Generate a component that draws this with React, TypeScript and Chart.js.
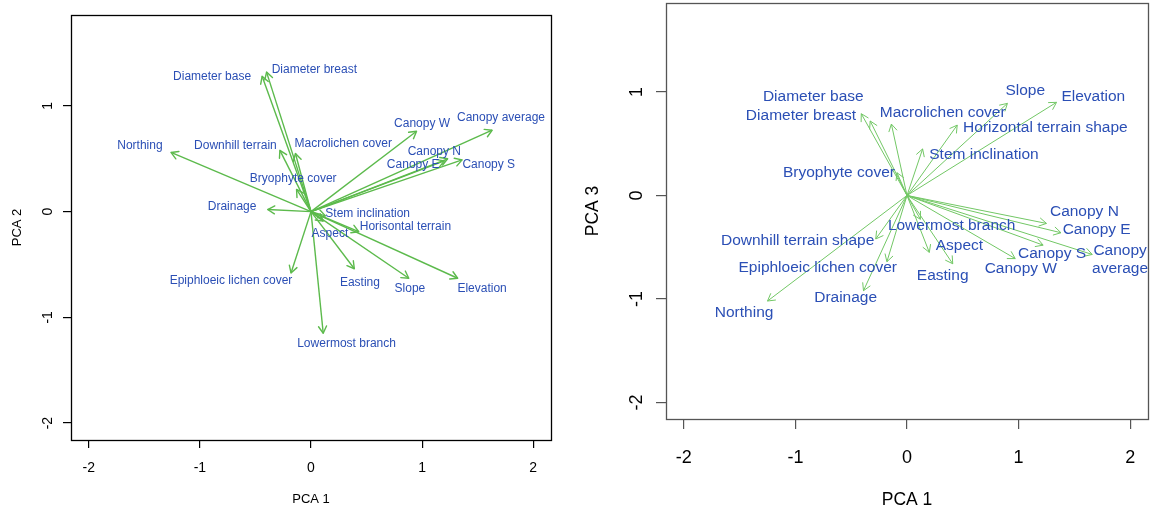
import React, { useEffect, useRef } from "react";
import { Chart, registerables } from "chart.js";

Chart.register(...registerables);

// ---------- data ----------
const xTickValues = [-2, -1, 0, 1, 2];
const yTickValues = [-2, -1, 0, 1];
const xRange = [-2.16, 2.16];
const yRange = [-2.16, 1.86];

// Left panel: PCA 1 vs PCA 2
const leftVariables = [
  "Diameter base", "Diameter breast", "Northing", "Downhill terrain", "Macrolichen cover",
  "Bryophyte cover", "Drainage", "Canopy W", "Canopy average", "Canopy N",
  "Canopy E", "Canopy S", "Stem inclination", "Horisontal terrain", "Aspect",
  "Epiphloeic lichen cover", "Easting", "Slope", "Elevation", "Lowermost branch",
];
const leftPCA1 = [-0.44, -0.40, -1.26, -0.28, -0.14, -0.13, -0.39, 0.95, 1.63, 1.23, 1.20, 1.36, 0.13, 0.43, 0.11, -0.18, 0.39, 0.88, 1.32, 0.11];
const leftPCA2 = [1.28, 1.32, 0.56, 0.58, 0.55, 0.21, 0.02, 0.76, 0.77, 0.50, 0.48, 0.49, -0.04, -0.19, -0.09, -0.58, -0.54, -0.63, -0.63, -1.15];
const leftLabelPCA1 = [-0.89, 0.03, -1.54, -0.68, 0.29, -0.16, -0.71, 1.00, 1.71, 1.11, 0.92, 1.60, 0.51, 0.85, 0.17, -0.72, 0.44, 0.89, 1.54, 0.32];
const leftLabelPCA2 = [1.28, 1.34, 0.62, 0.62, 0.64, 0.31, 0.05, 0.83, 0.89, 0.57, 0.44, 0.44, -0.02, -0.14, -0.21, -0.65, -0.67, -0.73, -0.73, -1.25];

// Right panel: PCA 1 vs PCA 3
const rightVariables = [
  "Diameter base", "Diameter breast", "Northing", "Downhill terrain shape", "Macrolichen cover",
  "Bryophyte cover", "Drainage", "Canopy W", "Canopy\naverage", "Canopy N",
  "Canopy E", "Canopy S", "Stem inclination", "Horizontal terrain shape", "Aspect",
  "Epiphloeic lichen cover", "Easting", "Slope", "Elevation", "Lowermost branch",
];
const rightPCA1 = [-0.33, -0.41, -1.25, -0.28, -0.14, -0.09, -0.39, 0.97, 1.66, 1.25, 1.38, 1.22, 0.14, 0.45, 0.20, -0.18, 0.41, 0.90, 1.34, 0.12];
const rightPCA3 = [0.72, 0.79, -1.02, -0.42, 0.69, 0.22, -0.92, -0.61, -0.57, -0.27, -0.36, -0.48, 0.45, 0.68, -0.55, -0.64, -0.66, 0.89, 0.90, -0.23];
const rightLabelPCA1 = [-0.84, -0.95, -1.46, -0.98, 0.32, -0.61, -0.55, 1.02, 1.91, 1.59, 1.70, 1.30, 0.69, 1.24, 0.47, -0.80, 0.32, 1.06, 1.67, 0.40];
const rightLabelPCA3 = [0.95, 0.77, -1.13, -0.44, 0.80, 0.22, -0.99, -0.71, -0.62, -0.16, -0.33, -0.56, 0.39, 0.65, -0.49, -0.70, -0.78, 1.01, 0.95, -0.29];

// ---------- drawing ----------
const FONT = '"Liberation Sans", Arial, Helvetica, sans-serif';

const biplotPlugin = {
  id: "biplot",
  afterDatasetsDraw(chart: any, _args: any, o: any) {
    const ctx = chart.ctx;
    ctx.save();
    ctx.strokeStyle = o.arrowColor;
    ctx.lineWidth = o.arrowWidth;
    ctx.lineCap = "round";
    ctx.lineJoin = "round";
    chart.data.datasets.forEach((_ds: any, i: number) => {
      const meta = chart.getDatasetMeta(i);
      const a = meta.data[0];
      const b = meta.data[1];
      if (!a || !b) return;
      const ang = Math.atan2(b.y - a.y, b.x - a.x);
      const L = o.headLen;
      const phi = Math.PI / 6;
      ctx.beginPath();
      ctx.moveTo(b.x - L * Math.cos(ang - phi), b.y - L * Math.sin(ang - phi));
      ctx.lineTo(b.x, b.y);
      ctx.lineTo(b.x - L * Math.cos(ang + phi), b.y - L * Math.sin(ang + phi));
      ctx.stroke();
    });
    ctx.restore();
  },
  afterDraw(chart: any, _args: any, o: any) {
    const ctx = chart.ctx;
    const { left, right, top, bottom } = chart.chartArea;
    const xs = chart.scales.x;
    const ys = chart.scales.y;
    ctx.save();
    // box
    ctx.strokeStyle = o.boxColor;
    ctx.lineWidth = o.boxWidth;
    ctx.strokeRect(Math.round(left) + 0.5, Math.round(top) + 0.5, Math.round(right - left), Math.round(bottom - top));

    // variable labels
    ctx.fillStyle = o.textColor;
    ctx.font = `${o.labelSize}px ${FONT}`;
    ctx.textAlign = "center";
    ctx.textBaseline = "middle";
    o.names.forEach((name: string, i: number) => {
      const px = xs.getPixelForValue(o.labelX[i]);
      const py = ys.getPixelForValue(o.labelY[i]);
      const lines = name.split("\n");
      const lh = o.labelSize * 1.2;
      lines.forEach((ln, k) => {
        ctx.fillText(ln, px, py + (k - (lines.length - 1) / 2) * lh);
      });
    });

    // tick labels
    ctx.fillStyle = "#000";
    ctx.font = `${o.tickSize}px ${FONT}`;
    ctx.textAlign = "center";
    ctx.textBaseline = "middle";
    xTickValues.forEach((v) => {
      ctx.fillText(String(v), xs.getPixelForValue(v), bottom + o.xTickOffset);
    });
    yTickValues.forEach((v) => {
      ctx.save();
      ctx.translate(left - o.yTickOffset, ys.getPixelForValue(v));
      ctx.rotate(-Math.PI / 2);
      ctx.fillText(String(v), 0, 0);
      ctx.restore();
    });

    // axis titles
    ctx.font = `${o.titleSize}px ${FONT}`;
    ctx.fillText(o.xTitle, (left + right) / 2, bottom + o.xTitleOffset);
    ctx.save();
    ctx.translate(left - o.yTitleOffset, (top + bottom) / 2);
    ctx.rotate(-Math.PI / 2);
    ctx.fillText(o.yTitle, 0, 0);
    ctx.restore();
    ctx.restore();
  },
};

type PanelStyle = {
  yAxisWidth: number;
  xAxisHeight: number;
  padTop: number;
  padRight: number;
  tickLen: number;
  axisColor: string;
  axisWidth: number;
  plugin: any;
};

function buildConfig(names: string[], xs: number[], ys: number[], st: PanelStyle): any {
  const datasets = names.map((n, i) => ({
    label: n,
    data: [
      { x: 0, y: 0 },
      { x: xs[i], y: ys[i] },
    ],
    showLine: true,
    borderColor: st.plugin.arrowColor,
    borderWidth: st.plugin.arrowWidth,
    pointRadius: 0,
    pointHoverRadius: 0,
    fill: false,
  }));
  const gridOpts = {
    display: true,
    drawOnChartArea: false,
    drawTicks: true,
    tickLength: st.tickLen,
    color: st.axisColor,
    lineWidth: st.axisWidth,
  };
  return {
    type: "scatter",
    data: { datasets },
    options: {
      animation: false,
      responsive: false,
      maintainAspectRatio: false,
      events: [],
      layout: { padding: { left: 0, right: st.padRight, top: st.padTop, bottom: 0 } },
      plugins: {
        legend: { display: false },
        tooltip: { enabled: false },
        biplot: st.plugin,
      },
      scales: {
        x: {
          type: "linear",
          min: xRange[0],
          max: xRange[1],
          afterBuildTicks: (s: any) => {
            s.ticks = xTickValues.map((v) => ({ value: v }));
          },
          afterFit: (s: any) => {
            s.height = st.xAxisHeight;
          },
          grid: gridOpts,
          border: { display: false },
          ticks: { display: false },
        },
        y: {
          type: "linear",
          min: yRange[0],
          max: yRange[1],
          afterBuildTicks: (s: any) => {
            s.ticks = yTickValues.map((v) => ({ value: v }));
          },
          afterFit: (s: any) => {
            s.width = st.yAxisWidth;
          },
          grid: gridOpts,
          border: { display: false },
          ticks: { display: false },
        },
      },
    },
    plugins: [biplotPlugin],
  };
}

const leftStyle: PanelStyle = {
  yAxisWidth: 71,
  xAxisHeight: 70,
  padTop: 15,
  padRight: 25,
  tickLen: 8,
  axisColor: "#000",
  axisWidth: 1.2,
  plugin: {
    names: leftVariables,
    labelX: leftLabelPCA1,
    labelY: leftLabelPCA2,
    arrowColor: "#5cba4c",
    arrowWidth: 1.4,
    headLen: 8,
    boxColor: "#000",
    boxWidth: 1.3,
    textColor: "#2b4fb5",
    labelSize: 12,
    tickSize: 14,
    titleSize: 13,
    xTickOffset: 28,
    yTickOffset: 23,
    xTitleOffset: 59,
    yTitleOffset: 54,
    xTitle: "PCA 1",
    yTitle: "PCA 2",
  },
};

const rightStyle: PanelStyle = {
  yAxisWidth: 86,
  xAxisHeight: 91,
  padTop: 3,
  padRight: 5,
  tickLen: 10,
  axisColor: "#555",
  axisWidth: 1.2,
  plugin: {
    names: rightVariables,
    labelX: rightLabelPCA1,
    labelY: rightLabelPCA3,
    arrowColor: "#72c765",
    arrowWidth: 1,
    headLen: 8,
    boxColor: "#555",
    boxWidth: 1.3,
    textColor: "#2b4fb5",
    labelSize: 15.5,
    tickSize: 18,
    titleSize: 17.5,
    xTickOffset: 39,
    yTickOffset: 29,
    xTitleOffset: 81,
    yTitleOffset: 73,
    xTitle: "PCA 1",
    yTitle: "PCA 3",
  },
};

function Panel(props: { names: string[]; xs: number[]; ys: number[]; st: PanelStyle; left: number; width: number }) {
  const ref = useRef<HTMLCanvasElement | null>(null);
  useEffect(() => {
    if (!ref.current) return;
    const chart = new Chart(ref.current, buildConfig(props.names, props.xs, props.ys, props.st));
    return () => chart.destroy();
  }, []);
  return (
    <canvas
      ref={ref}
      width={props.width}
      height={510}
      style={{ position: "absolute", left: props.left, top: 0, width: props.width, height: 510 }}
    />
  );
}

export default function App() {
  return (
    <div
      style={{
        position: "absolute",
        left: 0,
        top: 0,
        width: 1153,
        height: 510,
        overflow: "hidden",
        background: "#fff",
      }}
    >
      <Panel names={leftVariables} xs={leftPCA1} ys={leftPCA2} st={leftStyle} left={0} width={576} />
      <Panel names={rightVariables} xs={rightPCA1} ys={rightPCA3} st={rightStyle} left={580} width={573} />
    </div>
  );
}
